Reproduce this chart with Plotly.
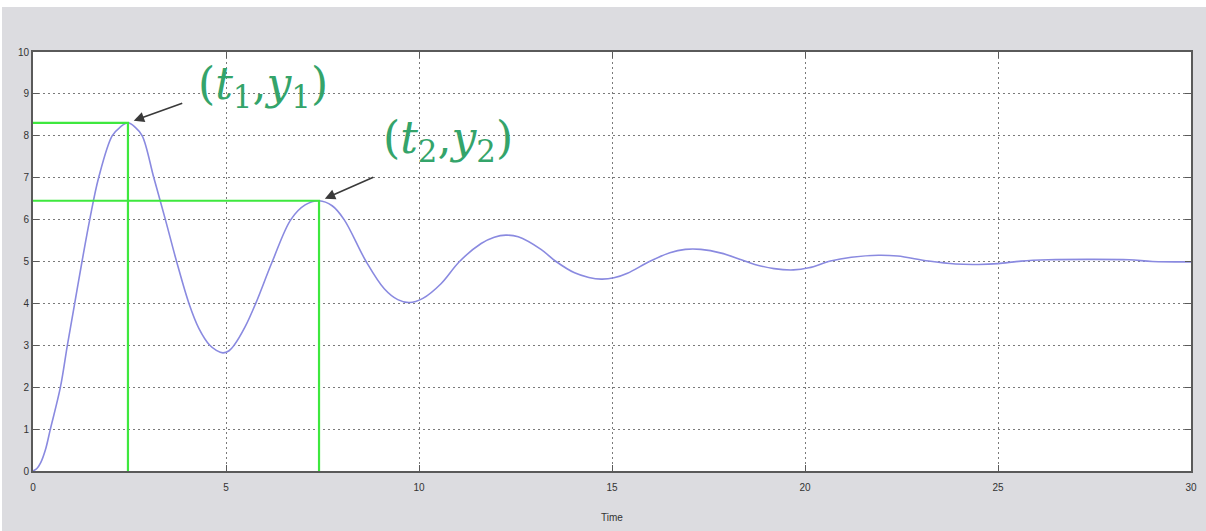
import plotly.graph_objects as go

# Step response
time = [0, 0.1, 0.2, 0.32, 0.45, 0.71, 0.89, 1.08, 1.27, 1.47, 1.70, 2.05, 2.25, 2.46, 2.65, 2.83,
        3.13, 3.43, 3.72, 4.04, 4.30, 4.58, 4.75, 4.92, 5.08, 5.21, 5.50, 5.77, 6.20, 6.68, 7.05,
        7.41, 7.75, 8.06, 8.63, 9.10, 9.45, 9.75, 10.10, 10.57, 11.05, 11.61, 11.95,
        12.25, 12.57, 13.16, 13.55, 14.03, 14.40, 14.72, 15.05, 15.40, 15.97, 16.50,
        16.90, 17.30, 17.83, 18.35, 18.70, 19.20, 19.70, 20.10, 20.66, 21.20, 21.90,
        22.40, 23.20, 23.90, 24.50, 25.00, 25.60, 26.30, 27.30, 28.40, 29.00, 30.00]
response = [0, 0.06, 0.2, 0.5, 1.0, 2.0, 3.0, 4.0, 5.0, 6.0, 7.0, 8.0, 8.2, 8.31, 8.2, 8.0,
            7.0, 6.0, 5.0, 4.0, 3.4, 3.0, 2.88, 2.82, 2.87, 3.0, 3.45, 4.0, 5.0, 6.0, 6.35,
            6.45, 6.33, 6.0, 5.0, 4.35, 4.09, 4.02, 4.12, 4.47, 5.0, 5.43, 5.58,
            5.63, 5.59, 5.29, 5.0, 4.73, 4.62, 4.58, 4.61, 4.72, 5.0, 5.21,
            5.29, 5.29, 5.2, 5.04, 4.93, 4.83, 4.8, 4.85, 5.01, 5.1, 5.15,
            5.13, 5.01, 4.94, 4.93, 4.95, 5.01, 5.04, 5.05, 5.04, 5.0, 4.99]

# Marked peaks
peak_t = [2.46, 7.41]
peak_y = [8.31, 6.45]
peak_labels = ["(<i>t</i><sub>1</sub>,<i>y</i><sub>1</sub>)",
               "(<i>t</i><sub>2</sub>,<i>y</i><sub>2</sub>)"]

x_ticks = [0, 5, 10, 15, 20, 25, 30]
y_ticks = list(range(0, 11))

fig = go.Figure()

fig.add_trace(go.Scatter(x=time, y=response, mode="lines",
                         line=dict(color="#8a8ae0", width=1.6, shape="spline", smoothing=1.0),
                         showlegend=False, hoverinfo="skip"))

for t, yv in zip(peak_t, peak_y):
    fig.add_trace(go.Scatter(x=[0, t, t], y=[yv, yv, 0], mode="lines",
                             line=dict(color="#3ee83e", width=2.2),
                             showlegend=False, hoverinfo="skip"))

# arrows + labels
arrow_off = [(50, -18), (50, -22)]
label_off = [(3.49, 0.86), (3.34, 1.43)]
for i, (t, yv) in enumerate(zip(peak_t, peak_y)):
    fig.add_annotation(x=t + 0.15, y=yv + 0.05, ax=arrow_off[i][0], ay=arrow_off[i][1],
                       text="", showarrow=True, arrowhead=2, arrowsize=1.3,
                       arrowwidth=1.6, arrowcolor="#3a3a3a")
    fig.add_annotation(x=t + label_off[i][0], y=yv + label_off[i][1], text=peak_labels[i],
                       showarrow=False,
                       font=dict(family="DejaVu Serif", size=44, color="#34a46a"))

W, H = 1206, 531
L, R, T, B = 33, 15, 52, 60
pw, ph = W - L - R, H - T - B

fig.update_layout(
    width=W, height=H,
    margin=dict(l=L, r=R, t=T, b=B),
    paper_bgcolor="#dcdce0",
    plot_bgcolor="white",
    font=dict(family="Liberation Sans", size=10, color="#333333"),
    shapes=[
        dict(type="rect", xref="paper", yref="paper",
             x0=-L / pw, x1=(W - L) / pw, y0=(ph + T - 7) / ph, y1=(ph + T) / ph,
             fillcolor="white", line=dict(width=0), layer="below"),
        dict(type="rect", xref="paper", yref="paper",
             x0=-L / pw, x1=(2 - L) / pw, y0=-B / ph, y1=(ph + T) / ph,
             fillcolor="white", line=dict(width=0), layer="below"),
    ],
)

fig.update_xaxes(range=[0, 30], tickvals=x_ticks, ticktext=[str(v) for v in x_ticks],
                 showgrid=True, gridcolor="#7a7a7a", griddash="2px,3px", gridwidth=1,
                 showline=True, linecolor="#5a5a5a", linewidth=2, mirror="ticks",
                 ticks="inside", ticklen=6, tickcolor="#5a5a5a", zeroline=False,
                 ticklabelstandoff=6, automargin=False,
                 title=dict(text="Time", font=dict(size=10, color="#333333"), standoff=22))
fig.update_yaxes(range=[0, 10], tickvals=y_ticks, ticktext=[str(v) for v in y_ticks],
                 showgrid=True, gridcolor="#7a7a7a", griddash="2px,3px", gridwidth=1,
                 showline=True, linecolor="#5a5a5a", linewidth=2, mirror="ticks",
                 ticks="inside", ticklen=6, tickcolor="#5a5a5a", zeroline=False,
                 automargin=False)

fig.write_html("out.html", config={"displayModeBar": False},
               post_script="document.body.style.margin='0px';"
                           "document.body.style.overflow='hidden';"
                           "document.body.style.background='#dcdce0';"
                           "document.documentElement.style.background='#dcdce0';")
